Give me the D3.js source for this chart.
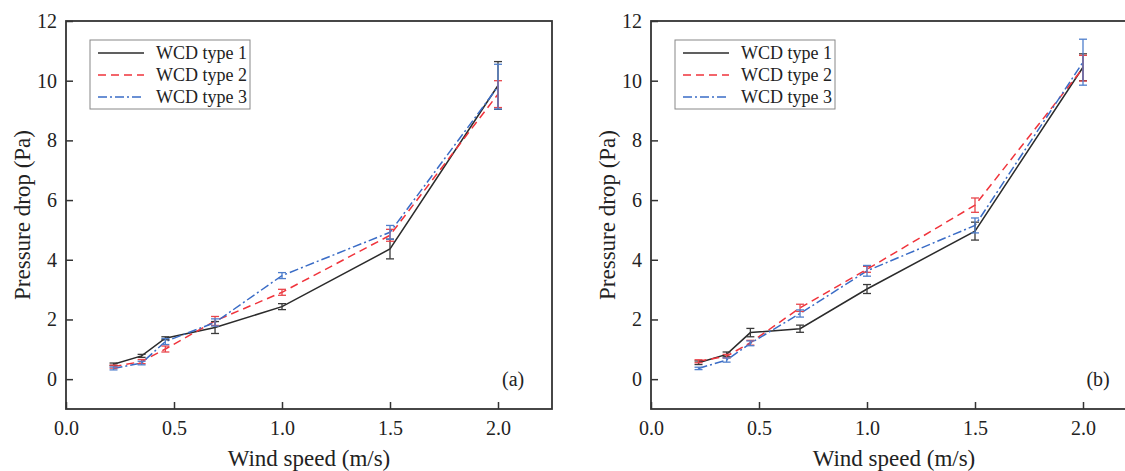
<!DOCTYPE html>
<html><head><meta charset="utf-8">
<script src="https://cdn.jsdelivr.net/npm/d3@7"></script>
<style>body{margin:0;background:#fff}svg{display:block}text{font-family:"Liberation Serif","Times New Roman",serif;fill:#222}</style>
</head><body><svg id="c" width="1125" height="471"></svg>
<script>
const windSpeed = [0.22, 0.35, 0.46, 0.69, 1.0, 1.5, 2.0];
const seriesNames = ["WCD type 1", "WCD type 2", "WCD type 3"];
const xTicks = [0.0, 0.5, 1.0, 1.5, 2.0];
const yTicks = [0, 2, 4, 6, 8, 10, 12];
// Panel (a)
const a_type1 = [0.50, 0.78, 1.37, 1.73, 2.43, 4.36, 9.84];
const a_type1_err = [0.04, 0.05, 0.05, 0.20, 0.10, 0.33, 0.80];
const a_type2 = [0.42, 0.59, 1.01, 1.95, 2.91, 4.82, 9.55];
const a_type2_err = [0.05, 0.07, 0.10, 0.15, 0.10, 0.20, 0.45];
const a_type3 = [0.36, 0.54, 1.26, 1.90, 3.47, 4.92, 9.80];
const a_type3_err = [0.05, 0.06, 0.10, 0.12, 0.10, 0.23, 0.75];
// Panel (b)
const b_type1 = [0.55, 0.83, 1.56, 1.69, 3.02, 4.96, 10.45];
const b_type1_err = [0.06, 0.08, 0.14, 0.12, 0.15, 0.30, 0.45];
const b_type2 = [0.60, 0.77, 1.22, 2.39, 3.68, 5.83, 10.42];
const b_type2_err = [0.05, 0.06, 0.08, 0.12, 0.10, 0.24, 0.43];
const b_type3 = [0.36, 0.64, 1.20, 2.20, 3.63, 5.15, 10.62];
const b_type3_err = [0.04, 0.07, 0.08, 0.12, 0.18, 0.25, 0.77];

const colors = ["#2b2b2b", "#f0333b", "#3a6cc6"];
const errColors = ["#3a3a3a", "#e8454b", "#4f7fcc"];
const dashes = [null, "8,5", "9,3,2,3"];

const svg = d3.select("#c");

function drawPanel(x0, vals, errs, letter) {
  const W = 486, H = 388, top = 21;
  const g = svg.append("g").attr("transform", `translate(${x0},${top})`);
  const x = d3.scaleLinear().domain([0, 2.25]).range([0, W]);
  const y = d3.scaleLinear().domain([-1, 12]).range([H, 0]);

  const line = d3.line().x((d, i) => x(windSpeed[i])).y(d => y(d));
  vals.forEach((v, s) => {
    g.append("path").datum(v).attr("d", line).attr("fill", "none")
      .attr("stroke", colors[s]).attr("stroke-width", 1.5)
      .attr("stroke-dasharray", dashes[s]);
  });
  vals.forEach((v, s) => {
    const eg = g.append("g").attr("stroke", errColors[s]).attr("stroke-width", 1.3).attr("fill", "none");
    v.forEach((d, i) => {
      const cx = x(windSpeed[i]), e = errs[s][i];
      const y1 = y(d + e), y2 = y(d - e);
      eg.append("line").attr("x1", cx).attr("x2", cx).attr("y1", y1).attr("y2", y2);
      eg.append("line").attr("x1", cx - 4).attr("x2", cx + 4).attr("y1", y1).attr("y2", y1);
      eg.append("line").attr("x1", cx - 4).attr("x2", cx + 4).attr("y1", y2).attr("y2", y2);
    });
  });

  const xa = g.append("g").attr("transform", `translate(0,${H})`)
    .call(d3.axisBottom(x).tickValues(xTicks).tickFormat(d3.format(".1f")).tickSizeInner(-7).tickSizeOuter(0).tickPadding(12));
  const ya = g.append("g")
    .call(d3.axisLeft(y).tickValues(yTicks).tickFormat(d3.format("d")).tickSizeInner(-7).tickSizeOuter(0).tickPadding(9));
  [xa, ya].forEach(a => {
    a.select(".domain").remove();
    a.selectAll(".tick line").attr("stroke", "#333").attr("stroke-width", 1.5);
    a.selectAll(".tick text").attr("font-size", 20).attr("font-family", "Liberation Serif").attr("fill", "#222");
  });
  g.append("rect").attr("x", 0).attr("y", 0).attr("width", W).attr("height", H)
    .attr("fill", "none").attr("stroke", "#333").attr("stroke-width", 1.8);

  g.append("text").attr("x", W * 0.5).attr("y", H + 57).attr("text-anchor", "middle")
    .attr("font-size", 23).text("Wind speed (m/s)");
  g.append("text").attr("transform", `translate(${-36},${H / 2}) rotate(-90)`).attr("text-anchor", "middle")
    .attr("font-size", 23).text("Pressure drop (Pa)");
  g.append("text").attr("x", x(2.07)).attr("y", y(0) + 7).attr("text-anchor", "middle")
    .attr("font-size", 20).text(letter);

  const lg = g.append("g").attr("transform", "translate(24,19)");
  lg.append("rect").attr("width", 160).attr("height", 69).attr("fill", "#fff")
    .attr("stroke", "#888").attr("stroke-width", 1);
  seriesNames.forEach((n, s) => {
    const ly = 13 + s * 22;
    lg.append("line").attr("x1", 8).attr("x2", 54).attr("y1", ly).attr("y2", ly)
      .attr("stroke", colors[s]).attr("stroke-width", 1.5).attr("stroke-dasharray", dashes[s]);
    lg.append("text").attr("x", 66).attr("y", ly + 6).attr("font-size", 18).text(n);
  });
}

drawPanel(66, [a_type1, a_type2, a_type3], [a_type1_err, a_type2_err, a_type3_err], "(a)");
drawPanel(651, [b_type1, b_type2, b_type3], [b_type1_err, b_type2_err, b_type3_err], "(b)");
</script></body></html>
